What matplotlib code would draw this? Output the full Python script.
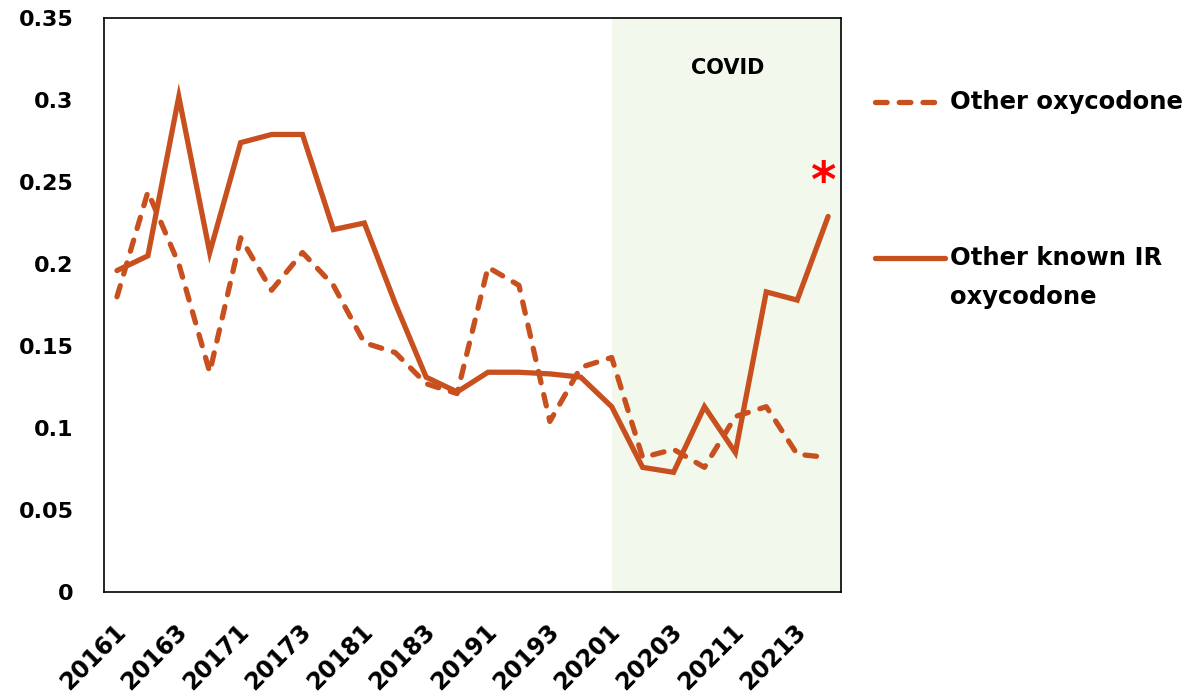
import numpy as np
import matplotlib.pyplot as plt
from matplotlib.lines import Line2D
from matplotlib.transforms import ScaledTranslation

plt.rcParams['font.family'] = ['DejaVu Sans']
plt.rcParams['font.weight'] = 'bold'

quarters = ['20161', '20162', '20163', '20164', '20171', '20172', '20173', '20174',
            '20181', '20182', '20183', '20184', '20191', '20192', '20193', '20194',
            '20201', '20202', '20203', '20204', '20211', '20212', '20213', '20214']
other_oxy = [0.180, 0.244, 0.200, 0.134, 0.216, 0.184, 0.207, 0.187,
             0.152, 0.146, 0.127, 0.121, 0.198, 0.187, 0.104, 0.137,
             0.143, 0.082, 0.087, 0.076, 0.107, 0.113, 0.084, 0.082]
known_ir = [0.196, 0.205, 0.302, 0.207, 0.274, 0.279, 0.279, 0.221,
            0.225, 0.176, 0.131, 0.122, 0.134, 0.134, 0.133, 0.131,
            0.113, 0.076, 0.073, 0.113, 0.085, 0.183, 0.178, 0.229]
covid_start = '20201'
yticks = [0, 0.05, 0.1, 0.15, 0.2, 0.25, 0.3, 0.35]
ytick_labels = ['0', '0.05', '0.1', '0.15', '0.2', '0.25', '0.3', '0.35']

line_color = '#C8501E'
x = np.arange(len(quarters))

fig = plt.figure(figsize=(11.87, 6.94), dpi=100)
ax = fig.add_axes([0.0876, 0.147, 0.621, 0.827])

ax.axvspan(quarters.index(covid_start), len(quarters) - 0.58, color='#F3F8EC', zorder=0, lw=0)

dashed, = ax.plot(x, other_oxy, color=line_color, lw=3.8, ls=(0, (2.2, 2.3)),
                  dash_capstyle='round', zorder=3)
solid, = ax.plot(x, known_ir, color=line_color, lw=3.8, solid_capstyle='round',
                 solid_joinstyle='miter', zorder=3)

ax.set_xlim(-0.42, len(quarters) - 0.58)
ax.set_ylim(0, 0.35)
ax.set_yticks(yticks)
ax.set_yticklabels(ytick_labels, fontsize=16, fontweight='bold')
ax.set_xticks(x[::2])
ax.set_xticklabels(quarters[::2], fontsize=17, fontweight='bold', rotation=45,
                   ha='right', va='center', rotation_mode='anchor')
ax.tick_params(axis='y', length=0, pad=22)
ax.tick_params(axis='x', length=0, pad=26)
for lbl in ax.get_xticklabels():
    lbl.set_transform(lbl.get_transform() + ScaledTranslation(0.05, 0, fig.dpi_scale_trans))

for s in ax.spines.values():
    s.set_color('black')
    s.set_linewidth(1.2)

ax.text(19.75, 0.3195, 'COVID', ha='center', va='center', fontsize=15, fontweight='bold')
ax.text(22.87, 0.241, '*', ha='center', va='baseline', fontsize=35, fontweight='bold',
        color='#FF0000')

# legend drawn by hand to match the spacing
fig.add_artist(Line2D([875 / 1187, 940 / 1187], [1 - 102 / 694] * 2, color=line_color,
                      lw=3.8, ls=(0, (2.2, 2.3)), dash_capstyle='round',
                      transform=fig.transFigure))
fig.add_artist(Line2D([875 / 1187, 945 / 1187], [1 - 258 / 694] * 2, color=line_color,
                      lw=3.8, solid_capstyle='round', transform=fig.transFigure))
fig.text(950 / 1187, 1 - 102 / 694, 'Other oxycodone', ha='left', va='center',
         fontsize=17.5, fontweight='bold')
fig.text(950 / 1187, 1 - 258 / 694, 'Other known IR', ha='left', va='center',
         fontsize=17.5, fontweight='bold')
fig.text(950 / 1187, 1 - 297 / 694, 'oxycodone', ha='left', va='center',
         fontsize=17.5, fontweight='bold')

fig.savefig('out.png', dpi=100)
